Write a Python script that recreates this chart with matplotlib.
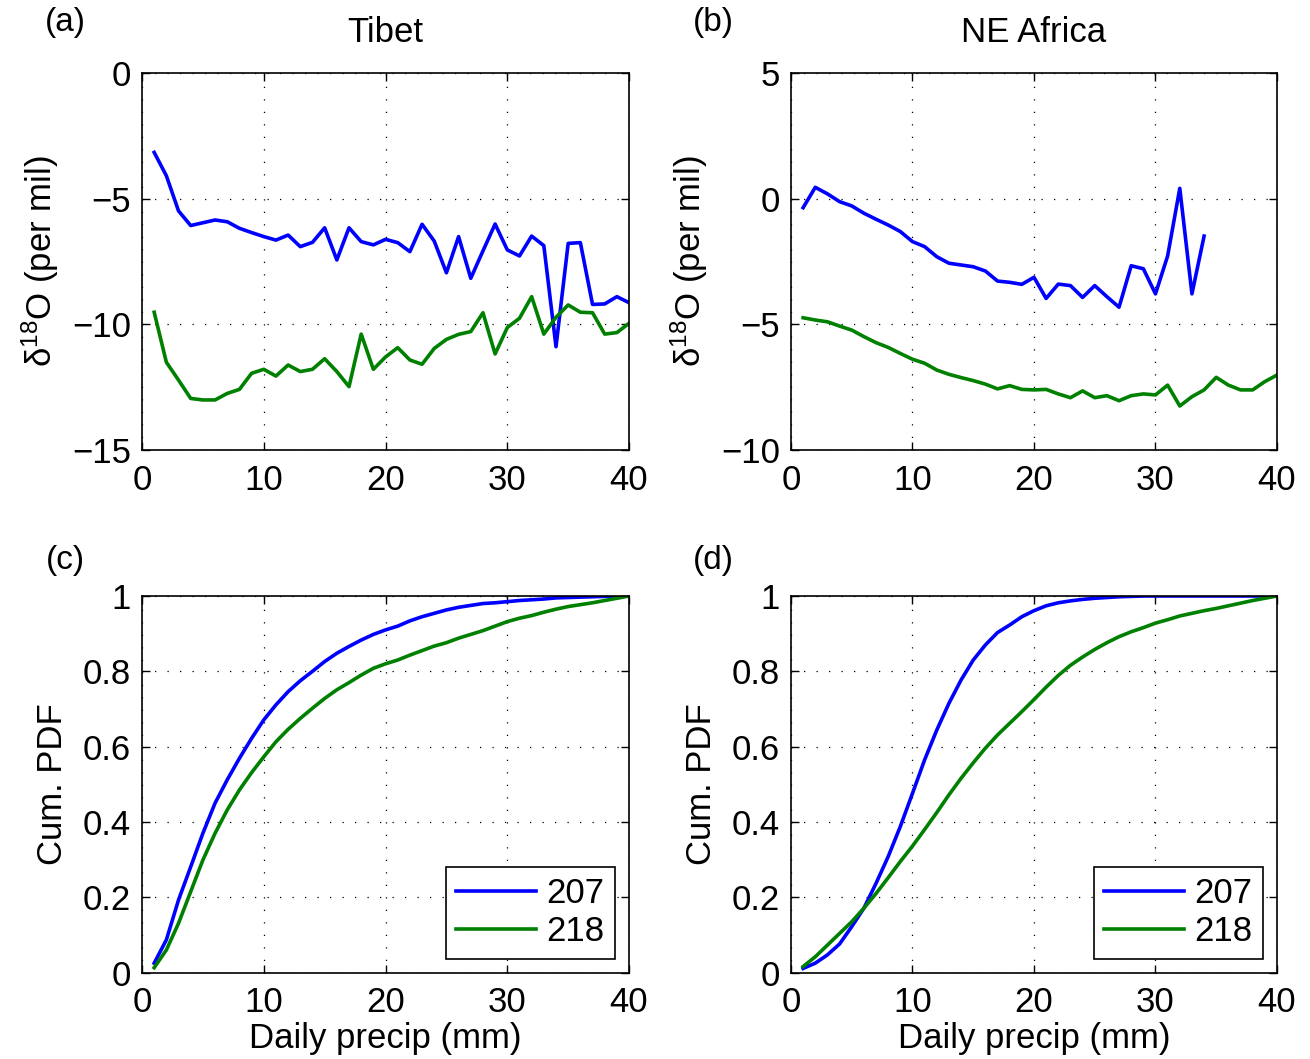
import matplotlib
matplotlib.use('Agg')
import matplotlib.pyplot as plt
import numpy as np

plt.rcParams['font.family'] = ['Liberation Sans', 'DejaVu Sans']
plt.rcParams['mathtext.fontset'] = 'custom'
plt.rcParams['mathtext.rm'] = 'Liberation Sans'
plt.rcParams['mathtext.it'] = 'Liberation Sans:italic'

precip = np.arange(1, 41)
precip_ne = np.arange(1, 35)

# (a) Tibet, delta18O
tibet_207 = [-3.16, -4.09, -5.49, -6.07, -5.96, -5.85, -5.92, -6.18, -6.35, -6.51,
             -6.65, -6.45, -6.91, -6.74, -6.16, -7.44, -6.16, -6.71, -6.84, -6.62,
             -6.75, -7.11, -6.02, -6.69, -7.95, -6.51, -8.17, -7.08, -6.01, -7.04,
             -7.28, -6.49, -6.87, -10.89, -6.78, -6.75, -9.21, -9.19, -8.90, -9.14]
tibet_218 = [-9.52, -11.51, -12.22, -12.95, -13.01, -13.01, -12.75, -12.59, -11.95, -11.79,
             -12.06, -11.62, -11.88, -11.79, -11.37, -11.88, -12.48, -10.39, -11.79, -11.3,
             -10.93, -11.42, -11.59, -10.96, -10.6, -10.4, -10.29, -9.54, -11.18, -10.13,
             -9.76, -8.9, -10.39, -9.72, -9.23, -9.52, -9.54, -10.39, -10.33, -9.96]

# (b) NE Africa, delta18O
ne_207 = [-0.36, 0.45, 0.19, -0.12, -0.29, -0.58, -0.82, -1.05, -1.31, -1.71,
          -1.91, -2.31, -2.57, -2.64, -2.71, -2.88, -3.28, -3.33, -3.41, -3.13,
          -3.97, -3.40, -3.46, -3.93, -3.46, -3.90, -4.32, -2.67, -2.79, -3.79,
          -2.28, 0.41, -3.79, -1.49]
ne_218 = [-4.74, -4.83, -4.9, -5.07, -5.23, -5.49, -5.73, -5.92, -6.16, -6.39,
          -6.55, -6.82, -6.99, -7.12, -7.24, -7.38, -7.57, -7.44, -7.59, -7.61,
          -7.59, -7.77, -7.92, -7.65, -7.92, -7.84, -8.04, -7.84, -7.77, -7.81,
          -7.42, -8.25, -7.88, -7.61, -7.11, -7.42, -7.61, -7.61, -7.28, -7.02]

# (c) Tibet, cumulative PDF
tibet_cdf_207 = [0.025, 0.087, 0.193, 0.281, 0.37, 0.45, 0.512, 0.569, 0.622, 0.671,
                 0.711, 0.746, 0.775, 0.8, 0.826, 0.848, 0.866, 0.883, 0.898, 0.91,
                 0.92, 0.934, 0.945, 0.954, 0.963, 0.970, 0.975, 0.980, 0.982, 0.985,
                 0.988, 0.99, 0.992, 0.995, 0.996, 0.997, 0.998, 0.999, 1.0, 1.0]
tibet_cdf_218 = [0.013, 0.06, 0.131, 0.215, 0.299, 0.37, 0.432, 0.485, 0.531, 0.573,
                 0.613, 0.646, 0.675, 0.702, 0.728, 0.751, 0.77, 0.79, 0.808, 0.82,
                 0.830, 0.843, 0.855, 0.867, 0.876, 0.888, 0.898, 0.908, 0.92, 0.932,
                 0.941, 0.948, 0.957, 0.965, 0.972, 0.977, 0.982, 0.988, 0.994, 1.0]

# (d) NE Africa, cumulative PDF
ne_cdf_207 = [0.011, 0.025, 0.047, 0.076, 0.122, 0.171, 0.237, 0.308, 0.388, 0.476,
              0.565, 0.644, 0.715, 0.777, 0.830, 0.87, 0.903, 0.923, 0.945, 0.961,
              0.974, 0.982, 0.987, 0.991, 0.994, 0.996, 0.998, 0.999, 1.0, 1.0,
              1.0, 1.0, 1.0, 1.0, 1.0, 1.0, 1.0, 1.0, 1.0, 1.0]
ne_cdf_218 = [0.016, 0.042, 0.073, 0.104, 0.135, 0.171, 0.21, 0.252, 0.295, 0.336,
              0.38, 0.425, 0.472, 0.516, 0.557, 0.596, 0.631, 0.662, 0.693, 0.725,
              0.758, 0.789, 0.816, 0.838, 0.858, 0.876, 0.892, 0.905, 0.916, 0.928,
              0.937, 0.947, 0.954, 0.961, 0.967, 0.974, 0.981, 0.988, 0.994, 1.0]

blue = (0, 0, 1)
green = (0, 0.5, 0)
fs = 25
lw = 2.6

fig = plt.figure(figsize=(13.1, 10.59), dpi=100)
ax_a = fig.add_axes([0.1084, 0.5751, 0.3718, 0.3560])
ax_b = fig.add_axes([0.6038, 0.5751, 0.3710, 0.3560])
ax_c = fig.add_axes([0.1084, 0.0816, 0.3718, 0.3556])
ax_d = fig.add_axes([0.6038, 0.0816, 0.3710, 0.3556])


def style(ax):
    ax.set_xlim(0, 40)
    ax.set_xticks([0, 10, 20, 30, 40])
    ax.grid(True, linestyle=(0, (1, 9)), color='k', linewidth=0.9)
    ax.tick_params(direction='in', top=True, right=True, length=6, width=1,
                   labelsize=fs)
    ax.tick_params(axis='x', pad=10)
    ax.tick_params(axis='y', pad=8)
    for s in ax.spines.values():
        s.set_linewidth(1.2)


ax_a.plot(precip, tibet_207, color=blue, lw=lw)
ax_a.plot(precip, tibet_218, color=green, lw=lw)
ax_a.set_ylim(-15, 0)
ax_a.set_yticks([-15, -10, -5, 0])
ax_a.set_title('Tibet', fontsize=fs, pad=22)
ax_a.set_ylabel('δ$^{18}$O (per mil)', fontsize=fs, labelpad=8)

ax_b.plot(precip_ne, ne_207, color=blue, lw=lw)
ax_b.plot(precip, ne_218, color=green, lw=lw)
ax_b.set_ylim(-10, 5)
ax_b.set_yticks([-10, -5, 0, 5])
ax_b.set_title('NE Africa', fontsize=fs, pad=22)
ax_b.set_ylabel('δ$^{18}$O (per mil)', fontsize=fs, labelpad=8)

for ax, c207, c218 in [(ax_c, tibet_cdf_207, tibet_cdf_218), (ax_d, ne_cdf_207, ne_cdf_218)]:
    ax.plot(precip, c207, color=blue, lw=lw, label='207')
    ax.plot(precip, c218, color=green, lw=lw, label='218')
    ax.set_ylim(0, 1)
    ax.set_yticks([0, 0.2, 0.4, 0.6, 0.8, 1])
    ax.set_yticklabels(['0', '0.2', '0.4', '0.6', '0.8', '1'])
    ax.set_xlabel('Daily precip (mm)', fontsize=fs, labelpad=2)
    ax.set_ylabel('Cum. PDF', fontsize=fs, labelpad=10)
    leg = ax.legend(loc='lower right', fontsize=fs, handlelength=2.3, handletextpad=0.3,
                    fancybox=False, edgecolor='k', framealpha=1, borderaxespad=0.4,
                    labelspacing=0.15, borderpad=0.3)
    leg.get_frame().set_linewidth(1.2)

for ax in (ax_a, ax_b, ax_c, ax_d):
    style(ax)

for x, y, lab in [(65, 22, '(a)'), (713, 22, '(b)'), (65, 560, '(c)'), (713, 560, '(d)')]:
    fig.text(x / 1310, 1 - y / 1059, lab, fontsize=fs - 1, ha='center', va='center')

fig.savefig('out.png', dpi=100)
